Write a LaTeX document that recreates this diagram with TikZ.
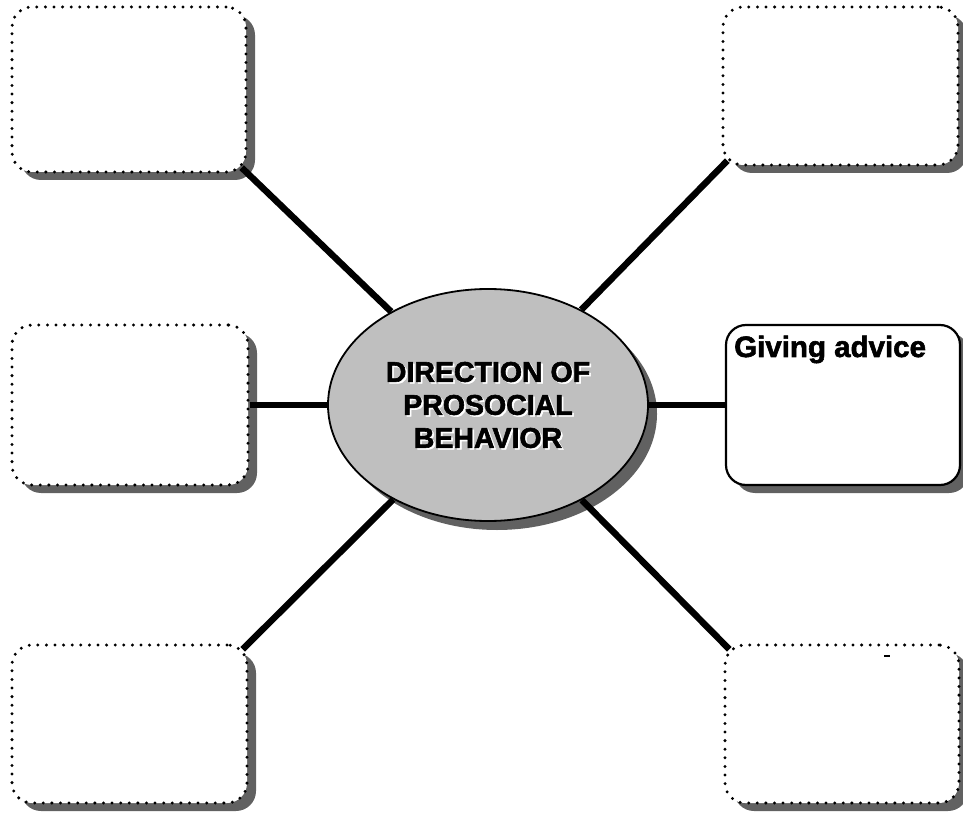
\documentclass[tikz,border=0pt]{standalone}
\usepackage{fontspec}
\setmainfont{Liberation Sans}
\newfontfamily\heavyfont{Liberation Sans}[BoldFont={Liberation Sans Bold}, BoldFeatures={FakeBold=2}]
\usetikzlibrary{shapes.geometric,shadows,calc}
\begin{document}
\begin{tikzpicture}[x=1pt,y=1pt,
  card/.style={rectangle, rounded corners=20pt, inner sep=0pt, fill=white,
    drop shadow={shadow xshift=9pt, shadow yshift=-8pt, fill=black!62, opacity=1}},
  dotcard/.style={card, draw=black, line width=3.3pt, line cap=round, dash pattern=on 0pt off 8.6pt},
  solidcard/.style={card, draw=black, line width=2.2pt},
  link/.style={line width=6.5pt, draw=black},
  hub/.style={ellipse, draw=black, line width=1.8pt, fill=black!25, inner sep=0pt,
    minimum width=320pt, minimum height=232pt,
    drop shadow={shadow xshift=9pt, shadow yshift=-9pt, fill=black!62, opacity=1}},
  hubtext/.style={align=center, inner sep=0pt, font=\heavyfont\fontsize{28.5}{33}\selectfont\bfseries},
]
\useasboundingbox (0,0) rectangle (963,815);

% central hub
\node[hub] (ell) at (488,410) {};
\node[hubtext, text=white] (hubhalo) at (489.8,408.4) {DIRECTION OF\\PROSOCIAL\\BEHAVIOR};
\node[hubtext] (hubtitle) at (488,410) {DIRECTION OF\\PROSOCIAL\\BEHAVIOR};

% surrounding boxes
\node[dotcard, minimum width=234pt, minimum height=165pt] (tl) at (129,725.5) {};
\node[dotcard, minimum width=235pt, minimum height=158pt] (tr) at (840.5,729) {};
\node[dotcard, minimum width=236pt, minimum height=160pt] (ml) at (130,410) {};
\node[solidcard, minimum width=234pt, minimum height=160pt] (ga) at (843,410) {};
\node[dotcard, minimum width=235pt, minimum height=158pt] (bl) at (129.5,91) {};
\node[dotcard, minimum width=234pt, minimum height=158pt] (br) at (842,91) {};

\node[font=\heavyfont\fontsize{29.5}{34}\selectfont\bfseries, anchor=base west, inner sep=0pt] (gatext) at (734,458) {Giving advice};

% attachment points on the rounded corners
\coordinate (tlc) at ($(tl.south east)+(-6,6)$);
\coordinate (trc) at ($(tr.south west)+(6,6)$);
\coordinate (blc) at ($(bl.north east)+(-6,-6)$);
\coordinate (brc) at ($(br.north west)+(6,-6)$);

% spokes
\draw[link] (tlc) -- (ell);
\draw[link] (trc) -- (ell);
\draw[link] (blc) -- (ell);
\draw[link] (brc) -- (ell);
\draw[link] (ml) -- (ell);
\draw[link] (ga) -- (ell);

% small stray mark inside the lower right box
\draw[line width=1.8pt] (884,159) -- (890,159);
\end{tikzpicture}
\end{document}
